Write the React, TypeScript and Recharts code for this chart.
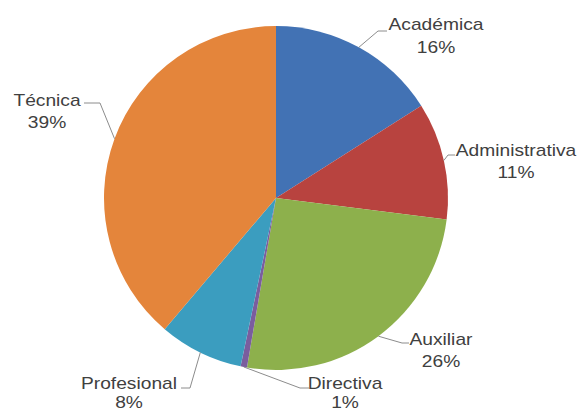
import React from 'react';
import { PieChart, Pie, Cell } from 'recharts';

const categories = ['Académica', 'Administrativa', 'Auxiliar', 'Directiva', 'Profesional', 'Técnica'];
const shares = [16.0, 11.0, 25.7, 0.6, 7.9, 38.8];
const sliceColors = ['#4272B4', '#B8433F', '#8DB04C', '#7A5D9E', '#3B9DBF', '#E4853B'];

const data = categories.map((name, i) => ({ name, value: shares[i] }));

// label placement relative to pie centre (Excel "best fit" style)
const labelLayout = [
  { elbow: [102, -167], end: [111, -167], tx: 160, ny: -168, py: -145 },
  { elbow: [172, -43], end: [179, -43], tx: 240, ny: -42, py: -20 },
  { elbow: [126, 145], end: [133, 145], tx: 165, ny: 147, py: 169 },
  { elbow: [24, 190], end: [33, 190], tx: 69, ny: 191, py: 210 },
  { elbow: [-86, 190], end: [-95, 190], tx: -147, ny: 191, py: 210 },
  { elbow: [-176, -95], end: [-192, -95], tx: -229, ny: -92, py: -70 },
];

const RADIAN = Math.PI / 180;

const renderLabel = (props: any) => {
  const { cx, cy, midAngle, outerRadius, index, percent, name } = props;
  const l = labelLayout[index];
  const sx = cx + outerRadius * Math.cos(-midAngle * RADIAN);
  const sy = cy + outerRadius * Math.sin(-midAngle * RADIAN);
  const pts = `${sx},${sy} ${cx + l.elbow[0]},${cy + l.elbow[1]} ${cx + l.end[0]},${cy + l.end[1]}`;
  const textStyle = { fontFamily: '"Liberation Sans", Arial, sans-serif', fontSize: 16, fill: '#404040' };
  return (
    <g key={`lbl-${index}`}>
      <polyline points={pts} fill="none" stroke="#8c8c8c" strokeWidth={1} />
      <text transform={`translate(${cx + l.tx},${cy + l.ny}) scale(1.2,1)`} textAnchor="middle" style={textStyle}>
        {name}
      </text>
      <text transform={`translate(${cx + l.tx},${cy + l.py}) scale(1.2,1)`} textAnchor="middle" style={textStyle}>
        {`${Math.round(percent * 100)}%`}
      </text>
    </g>
  );
};

export default function App() {
  return (
    <div style={{ position: 'absolute', left: 0, top: 0, width: 580, height: 414, background: '#fff' }}>
      <PieChart width={580} height={414} margin={{ top: 0, right: 0, bottom: 0, left: 0 }}>
        <Pie
          data={data}
          dataKey="value"
          nameKey="name"
          cx={276}
          cy={198}
          outerRadius={172}
          startAngle={90}
          endAngle={-270}
          stroke="none"
          label={renderLabel}
          labelLine={false}
          isAnimationActive={false}
        >
          {data.map((d, i) => (
            <Cell key={d.name} fill={sliceColors[i]} />
          ))}
        </Pie>
      </PieChart>
    </div>
  );
}
